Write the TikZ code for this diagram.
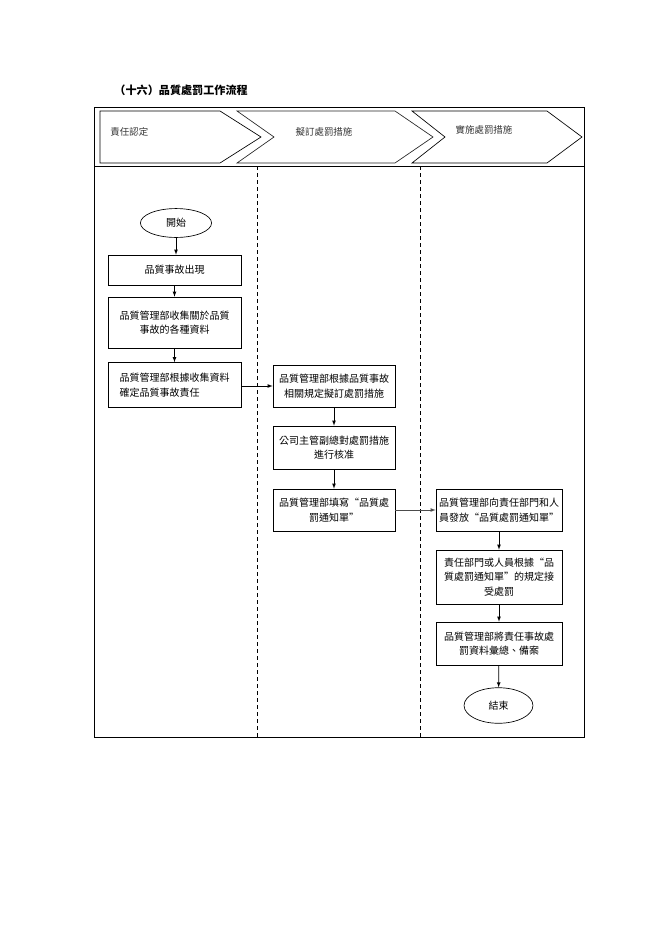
\documentclass[tikz,border=0pt]{standalone}
\usepackage{fontspec}
\setmainfont{Noto Sans CJK TC}
\usepackage{xcolor}
\usepackage{tikz}
\usetikzlibrary{shapes.geometric}

\begin{document}
\begin{tikzpicture}[x=0.9pt,y=-0.9pt,line width=0.6pt]
			\tikzstyle{every node}=[font=\fontsize{9}{13}\selectfont, inner sep=1pt];
			\tikzstyle{box}=[draw, align=center];
			\tikzstyle{term}=[draw, ellipse, minimum width=64pt, minimum height=26pt];
			\tikzstyle{lane}=[dash pattern=on 3.6pt off 2.7pt];
			\tikzstyle{head}=[font=\fontsize{8.5}{10}\selectfont, text=black!80];
			\useasboundingbox (0, 0) rectangle (662, 936);
			
			%Title
			\node[anchor=west, font=\fontsize{10}{12}\selectfont\bfseries] (title) at (113, 90) {（十六）品質處罰工作流程};
			
			%Frame
			\draw (94, 107) rectangle (584, 737);
			\draw (94, 166) -- (584, 166);
			\draw[lane] (257.5, 166) -- (257.5, 737);
			\draw[lane] (420.5, 166) -- (420.5, 737);
			
			%Header
			\draw (100, 111) -- (220, 111) -- (261, 137) -- (220, 163) -- (100, 163) -- cycle;
			\draw[black!85] (237, 111) -- (395, 111) -- (433, 137) -- (395, 163) -- (237, 163) -- (274, 137) -- cycle;
			\draw (412, 111) -- (547, 111) -- (582, 137) -- (547, 163) -- (412, 163) -- (445, 137) -- cycle;
			\node[head, anchor=west] (h1) at (109, 132) {責任認定};
			\node[head] (h2) at (324, 132) {擬訂處罰措施};
			\node[head] (h3) at (484, 130) {實施處罰措施};
			
			%Column 1
			\node[term] (start) at (176, 223) {開始};
			\node[box, minimum width=119.7pt, minimum height=27pt] (b1) at (174.5, 270) {品質事故出現};
			\node[box, minimum width=119.7pt, minimum height=45.9pt] (b2) at (174.5, 322.5) {品質管理部收集關於品質\\事故的各種資料};
			\node[box, align=left, minimum width=119.7pt, minimum height=40.5pt] (b3) at (174.5, 385) {品質管理部根據收集資料\\確定品質事故責任};
			
			%Column 2
			\node[box, minimum width=109.8pt, minimum height=37.8pt] (a1) at (334, 386) {品質管理部根據品質事故\\相關規定擬訂處罰措施};
			\node[box, minimum width=109.8pt, minimum height=38.7pt] (a2) at (334, 447.5) {公司主管副總對處罰措施\\進行核准};
			\node[box, minimum width=109.8pt, minimum height=37.8pt] (a3) at (334, 510) {品質管理部填寫“品質處\\罰通知單”};
			
			%Column 3
			\node[box, minimum width=113.4pt, minimum height=37.8pt] (c1) at (499, 510) {品質管理部向責任部門和人\\員發放“品質處罰通知單”};
			\node[box, minimum width=113.4pt, minimum height=48.6pt] (c2) at (499, 577) {責任部門或人員根據“品\\質處罰通知單”的規定接\\受處罰};
			\node[box, minimum width=113.4pt, minimum height=38.7pt] (c3) at (499, 643.5) {品質管理部將責任事故處\\罰資料彙總、備案};
			\node[term, minimum width=62pt, minimum height=32pt] (end) at (498.5, 705.5) {結束};
			
			%Lines
			\draw[-latex] (start) -- (start |- b1.north);
			\draw[-latex] (b1) -- (b2);
			\draw[-latex] (b2) -- (b3);
			\draw[-latex] (b3.east |- a1.west) -- (a1.west);
			\draw[-latex] (a1) -- (a2);
			\draw[-latex] (a2) -- (a3);
			\draw[-latex, black!70] (a3) -- (c1);
			\draw[-latex] (c1) -- (c2);
			\draw[-latex] (c2) -- (c3);
			\draw[-latex] (c3) -- (end);
\end{tikzpicture}
\end{document}
